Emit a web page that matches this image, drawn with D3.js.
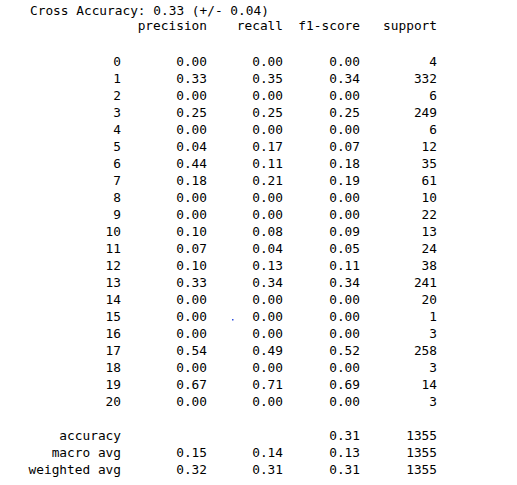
<!DOCTYPE html>
<html><head><meta charset="utf-8">
<script src="https://cdn.jsdelivr.net/npm/d3@7"></script>
<style>body{margin:0;background:#fff}</style>
</head><body><svg></svg>
<script>
const title = "Cross Accuracy: 0.33 (+/- 0.04)";
const columns = ["precision", "recall", "f1-score", "support"];
const classes = d3.range(21).map(String);
const precision = [0.00,0.33,0.00,0.25,0.00,0.04,0.44,0.18,0.00,0.00,0.10,0.07,0.10,0.33,0.00,0.00,0.00,0.54,0.00,0.67,0.00];
const recall    = [0.00,0.35,0.00,0.25,0.00,0.17,0.11,0.21,0.00,0.00,0.08,0.04,0.13,0.34,0.00,0.00,0.00,0.49,0.00,0.71,0.00];
const f1        = [0.00,0.34,0.00,0.25,0.00,0.07,0.18,0.19,0.00,0.00,0.09,0.05,0.11,0.34,0.00,0.00,0.00,0.52,0.00,0.69,0.00];
const support   = [4,332,6,249,6,12,35,61,10,22,13,24,38,241,20,1,3,258,3,14,3];
const summaryLabels = ["accuracy", "macro avg", "weighted avg"];
const summaryPrecision = [null, 0.15, 0.32];
const summaryRecall = [null, 0.14, 0.31];
const summaryF1 = [0.31, 0.13, 0.31];
const summarySupport = [1355, 1355, 1355];

const width = 517, height = 485;
const svg = d3.select("svg").attr("width", width).attr("height", height)
  .style("font-family", "'DejaVu Sans Mono', monospace").style("font-size", "12.8px");

// column right edges
const keys = ["label", ...columns];
const x = d3.scaleOrdinal().domain(keys).range([121, 207, 283, 360, 437]);
const y = d3.scaleLinear().domain([0, 20]).range([66, 406]);
const ySum = d3.scaleLinear().domain([0, 2]).range([440, 474]);
const fmt = d3.format(".2f");

svg.append("text").attr("x", 30).attr("y", 15).text(title).attr("fill", "#000");

svg.append("g").selectAll("text").data(columns).join("text")
  .attr("x", d => x(d)).attr("y", 30).attr("text-anchor", "end").text(d => d);

const rows = classes.map((c, i) => [c, fmt(precision[i]), fmt(recall[i]), fmt(f1[i]), String(support[i])]);
const sums = summaryLabels.map((c, i) => [c,
  summaryPrecision[i] == null ? "" : fmt(summaryPrecision[i]),
  summaryRecall[i] == null ? "" : fmt(summaryRecall[i]),
  fmt(summaryF1[i]), String(summarySupport[i])]);

function drawRows(data, yf) {
  svg.append("g").selectAll("g").data(data).join("g")
    .attr("transform", (d, i) => `translate(0,${yf(i)})`)
    .selectAll("text").data(d => d).join("text")
      .attr("x", (d, j) => x(keys[j])).attr("text-anchor", "end").text(d => d);
}
drawRows(rows, y);
drawRows(sums, ySum);

// stray blue dot
svg.append("rect").attr("x", 232).attr("y", 319).attr("width", 1.5).attr("height", 1.5).attr("fill", "#3050e0");
</script></body></html>
